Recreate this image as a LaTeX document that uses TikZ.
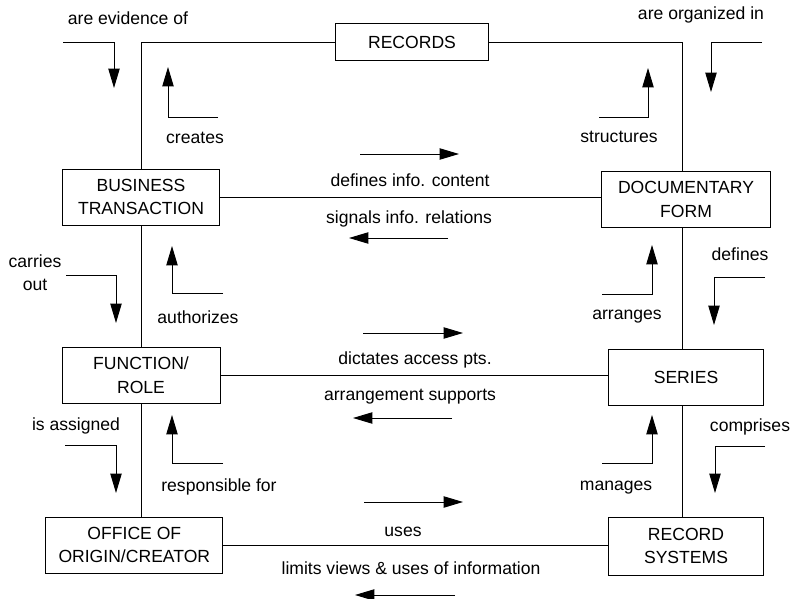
\documentclass[tikz,border=0pt]{standalone}
\usepackage{fontspec}
\setmainfont{Liberation Sans}
\usetikzlibrary{arrows.meta,positioning}

\begin{document}
\begin{tikzpicture}[x=0.03cm,y=-0.03cm,line width=0.8pt,>={Triangle[length=0.58cm,width=0.34cm]},
    font=\fontsize{15}{20}\selectfont]
  \tikzstyle{box}=[draw,align=center,minimum height=1.68cm,inner sep=2pt]
  \tikzstyle{lbl}=[align=center,inner sep=1pt]
  \tikzstyle{flow}=[->]
  \useasboundingbox (0,0) rectangle (791,599);

  \node[box,minimum width=4.59cm,minimum height=1.11cm] (rec) at (412,42) {RECORDS};
  \node[box,minimum width=4.71cm] (bt) at (141,197) {BUSINESS\\TRANSACTION};
  \node[box,minimum width=5.07cm] (df) [right of=bt,node distance=16.35cm,yshift=-0.07cm] {DOCUMENTARY\\FORM};
  \node[box,minimum width=4.74cm] (fr) [below of=bt,node distance=5.34cm] {FUNCTION/\\ROLE};
  \node[box,minimum width=4.65cm] (se) [below of=df,node distance=5.33cm] {SERIES};
  \node[box,minimum width=5.31cm] (oo) [below of=fr,node distance=5.1cm,xshift=-0.2cm] {OFFICE OF\\ORIGIN/CREATOR};
  \node[box,minimum width=4.65cm,minimum height=1.74cm] (rs) [below of=se,node distance=5.07cm] {RECORD\\SYSTEMS};

  % links between the boxes
  \draw (rec) -| (bt);
  \draw (rec) -| ([xshift=-0.12cm]df.north);
  \draw (bt) -- (fr);
  \draw (fr.south) -- (fr.south |- oo.north);
  \draw ([xshift=-0.12cm]df.south) -- ([xshift=-0.12cm]df.south |- se.north);
  \draw ([xshift=-0.12cm]se.south) -- ([xshift=-0.12cm]se.south |- rs.north);
  \draw (bt.east) -- (bt.east -| df.west);
  \draw (fr.east) -- (fr.east -| se.west);
  \draw (oo.east) -- (oo.east -| rs.west);

  % relation words
  \node[lbl] (evid) at (128,18) {are evidence of};
  \node[lbl] (crea) at (195,138) {creates};
  \node[lbl] (orga) at (701,15) {are organized in};
  \node[lbl] (stru) at (619,137) {structures};
  \node[lbl] (dinf) at (410,180) {defines info. content};
  \node[lbl] (sinf) at (409,219) {signals info. relations};
  \node[lbl] (carr) at (35,273) {carries\\out};
  \node[lbl] (auth) at (198,317) {authorizes};
  \node[lbl] (defi) at (740,254) {defines};
  \node[lbl] (arra) at (627,317) {arranges};
  \node[lbl] (dict) at (415,360) {dictates access pts.};
  \node[lbl] (asup) at (410,397) {arrangement supports};
  \node[lbl] (assi) at (76,426) {is assigned};
  \node[lbl] (resp) at (219,487) {responsible for};
  \node[lbl] (comp) at (750,427) {comprises};
  \node[lbl] (mana) at (616,488) {manages};
  \node[lbl] (uses) at (403,532) {uses};
  \node[lbl] (limi) at (411,568) {limits views \& uses of information};

  % bent pointers
  \foreach \n/\xa/\ya/\xb/\yb in {ev/63/42/114/88, cr/218/117/168/67, og/762/42/711/92,
      st/599/117/648/68, co/66/275/116/323, au/223/293/172/246, de/765/277/714/325,
      ar/602/294/652/245, is/65/445/116/493, re/223/463/172/415, cm/765/446/715/493,
      ma/602/463/652/415}
  {
    \coordinate (\n1) at (\xa,\ya);
    \coordinate (\n2) at (\xb,\yb);
    \draw[flow] (\n1) -| (\n2);
  }

  % straight pointers along the links
  \foreach \n/\xa/\xb/\y in {di/360/459/154, si/448/349/238, da/363/463/333,
      as/452/353/418, us/364/463/502, li/455/355/595}
  {
    \coordinate (\n1) at (\xa,\y);
    \coordinate (\n2) at (\xb,\y);
    \draw[flow] (\n1) -- (\n2);
  }
\end{tikzpicture}
\end{document}
